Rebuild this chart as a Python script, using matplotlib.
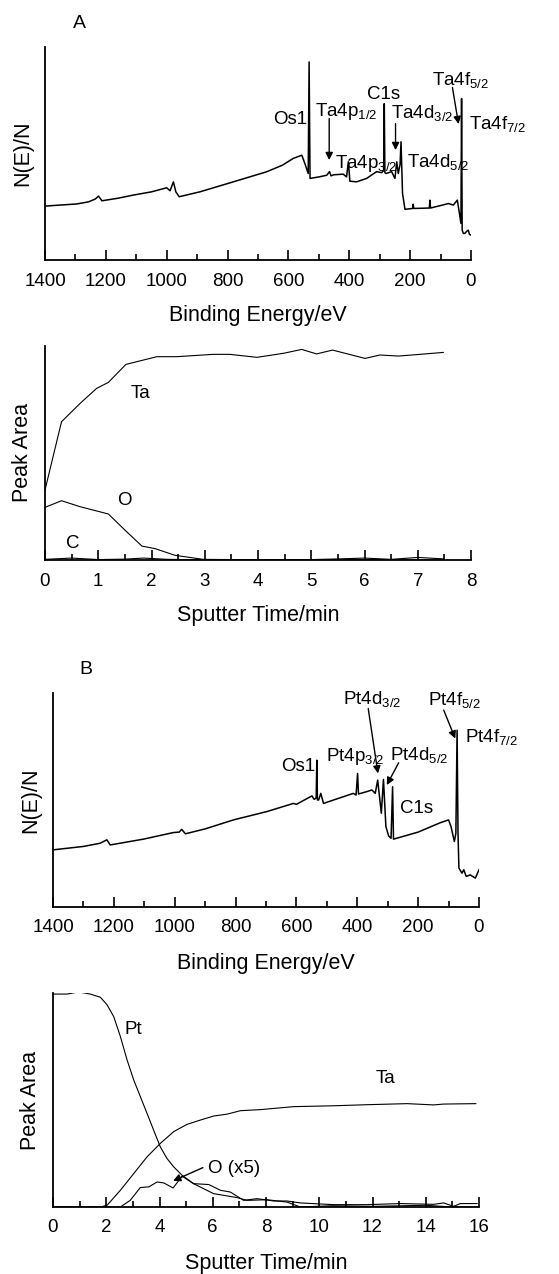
import matplotlib
matplotlib.use("Agg")
import matplotlib.pyplot as plt
from matplotlib.ticker import MultipleLocator

plt.rcParams["font.family"] = ["Liberation Sans", "DejaVu Sans"]
plt.rcParams["mathtext.fontset"] = "custom"
plt.rcParams["mathtext.rm"] = "Liberation Sans"
plt.rcParams["mathtext.it"] = "Liberation Sans"

# ---- panel A: survey spectrum (binding energy / eV, arb. intensity) ----
be_a = [1400, 1350, 1296, 1257, 1235, 1224, 1213, 1160, 1109, 1050, 1000, 989,
        978, 970, 959, 891, 781, 672, 620, 584, 556, 546, 535, 532, 529, 500,
        474, 465, 460, 452, 420, 409, 403, 398, 376, 343, 310, 294, 287, 285,
        283, 279, 261, 250, 244, 239, 233, 230, 225, 217, 192, 190, 188, 137,
        135, 133, 74, 58, 45, 38, 33, 31, 29, 25, 20, 14, 9, 5, 0]
nen_a = [25.3, 25.8, 26.3, 27.3, 28.6, 30.0, 27.8, 29.0, 30.5, 32.0, 33.9, 32.5,
         36.7, 32.0, 29.7, 32.0, 36.7, 41.4, 44.5, 47.7, 49.2, 45.3, 40.6, 93.0,
         38.3, 39.0, 39.8, 41.5, 39.5, 40.0, 40.3, 39.0, 46.1, 37.0, 36.7, 38.3,
         41.5, 41.0, 42.0, 73.4, 41.0, 40.6, 41.5, 38.3, 46.1, 40.6, 45.0, 55.5,
         31.2, 23.8, 24.2, 26.2, 24.2, 24.4, 28.1, 24.4, 26.5, 25.8, 28.1, 21.9,
         17.2, 75.8, 14.0, 12.5, 12.5, 13.5, 14.0, 12.0, 11.7]

# ---- panel A: depth profile ----
t_ta_a = [0, 0.31, 0.66, 0.97, 1.19, 1.52, 2.10, 2.47, 3.16, 3.47, 3.98, 4.48,
          4.82, 5.10, 5.40, 6.01, 6.29, 6.64, 7.04, 7.48]
ta_a = [32.7, 64.6, 73.2, 80.2, 83.0, 91.4, 95.0, 95.0, 96.1, 96.1, 94.7, 96.6,
        98.4, 96.3, 98.1, 94.2, 95.8, 95.3, 96.1, 97.0]
t_o_a = [0, 0.31, 0.66, 1.19, 1.50, 1.82, 2.07, 2.44, 2.97, 4.0, 5.0, 6.0, 7.5]
o_a = [24.6, 27.7, 24.9, 21.5, 14.0, 6.5, 5.3, 2.2, 0.3, 0.1, 0.0, 0.2, 0.0]
t_c_a = [0, 0.5, 1.0, 1.5, 1.85, 2.3, 3.0, 4.0, 5.0, 5.5, 6.0, 6.5, 7.0, 7.5]
c_a = [0.3, 0.9, 0.2, 0.4, 0.9, 0.3, 0.1, 0.1, 0.2, 0.5, 0.9, 0.3, 1.2, 0.5]

# ---- panel B: survey spectrum ----
be_b = [1400, 1300, 1245, 1223, 1212, 1103, 1004, 985, 977, 965, 900, 807, 697,
        610, 600, 549, 542, 535, 533, 531, 527, 520, 511, 478, 413, 404, 399,
        396, 369, 352, 341, 333, 321, 314, 306, 297, 289, 284, 281, 200, 127,
        100, 92, 81, 76, 72, 69, 66, 56, 50, 42, 29, 12, 0]
nen_b = [26.7, 28.3, 29.8, 31.4, 29.0, 31.7, 34.8, 35.0, 36.3, 34.2, 36.5, 40.7,
         44.6, 48.4, 48.0, 51.9, 50.3, 51.0, 68.6, 50.0, 50.0, 53.1, 48.4, 50.0,
         53.1, 52.3, 62.4, 52.8, 53.9, 54.7, 53.1, 59.3, 43.8, 59.6, 37.6, 33.2,
         32.1, 56.2, 31.7, 35.0, 39.4, 40.7, 37.6, 30.6, 34.5, 82.6, 34.5, 18.2,
         15.8, 17.4, 14.3, 15.0, 13.5, 17.4]

# ---- panel B: depth profile ----
t_pt = [0, 0.53, 0.96, 1.40, 1.78, 2.03, 2.28, 2.53, 2.78, 3.03, 3.28, 3.53,
        3.78, 4.03, 4.28, 4.53, 4.85, 5.28, 6.03, 6.91, 7.29, 8.04, 8.79, 9.29,
        10.5, 12.0, 14.0, 15.0, 16.0]
pt_b = [99.5, 99.5, 100.5, 99.5, 98.0, 94.5, 89.0, 79.7, 68.8, 59.4, 51.6, 43.8,
        35.9, 28.1, 22.7, 18.8, 14.8, 10.9, 6.25, 4.4, 3.1, 3.4, 2.3, 0.0,
        0.6, 0.3, 0.8, 0.0, 0.2]
t_ta = [0, 1.78, 2.03, 2.53, 3.03, 3.53, 4.03, 4.53, 5.03, 5.53, 6.03, 6.54,
        7.04, 7.79, 9.04, 10.54, 11.79, 13.30, 14.30, 14.67, 15.88]
ta_b = [0, 0, 0.8, 7.8, 15.6, 23.4, 29.7, 35.2, 38.6, 40.6, 42.5, 43.4,
        45.0, 45.5, 46.9, 47.3, 47.8, 48.3, 47.7, 48.1, 48.3]
t_o = [0, 2.53, 2.90, 3.28, 3.60, 3.91, 4.16, 4.51, 4.85, 5.28, 5.85, 6.29,
       6.66, 7.16, 7.66, 8.29, 8.79, 9.29, 10.54, 11.79, 13.05, 14.30, 14.67,
       15.05, 15.30, 15.93]
o_b = [0, 0, 3.1, 9.1, 9.4, 11.7, 11.25, 8.9, 14.4, 10.9, 10.5, 7.8,
       7.0, 3.1, 3.9, 2.8, 2.8, 1.9, 1.1, 1.1, 1.6, 1.25, 1.9, 0.3, 1.6, 1.6]

W, H = 559, 1274
fig = plt.figure(figsize=(W / 100, H / 100), dpi=100)


def make_axes(left, right, top, bottom):
    ax = fig.add_axes([left / W, 1 - bottom / H, (right - left) / W, (bottom - top) / H])
    for s in ("top", "right"):
        ax.spines[s].set_visible(False)
    for s in ("left", "bottom"):
        ax.spines[s].set_linewidth(1.3)
    ax.set_yticks([])
    ax.tick_params(axis="x", which="both", direction="in", width=1.2,
                   labelsize=13.5, pad=9)
    ax.tick_params(axis="x", which="major", length=7)
    ax.tick_params(axis="x", which="minor", length=4)
    ax.set_ylim(0, 100)
    h = bottom - top
    w = right - left
    ax.xaxis.label.set_va("center")
    ax.yaxis.label.set_va("center")
    ax.xaxis.set_label_coords(0.5, -56 / h)
    ax.yaxis.set_label_coords(-22 / w, 0.5)
    return ax


def arrow(ax, xy_from, xy_to):
    ax.annotate("", xy=xy_to, xytext=xy_from,
                arrowprops=dict(arrowstyle="-|>", color="black", lw=1.0,
                                mutation_scale=11, shrinkA=0, shrinkB=0))


lab = dict(fontsize=13.5, va="center", clip_on=False)
sub = lambda s, d: s + r"$_{\mathregular{" + d + "}}$"

# panel A spectrum
ax1 = make_axes(45, 471, 47, 260)
ax1.plot(be_a, nen_a, color="black", lw=1.1)
ax1.set_xlim(1400, 0)
ax1.xaxis.set_major_locator(MultipleLocator(200))
ax1.xaxis.set_minor_locator(MultipleLocator(100))
ax1.set_xlabel("Binding Energy/eV", fontsize=15.5)
ax1.set_ylabel("N(E)/N", fontsize=15.5)
fig.text(79 / W, 1 - 23 / H, "A", fontsize=14, ha="center", va="center")
ax1.text(537, 66, "Os1", ha="right", **lab)
ax1.text(512, 69.5, sub("Ta4p", "1/2"), ha="left", **lab)
arrow(ax1, (466, 66.4), (466, 46.9))
ax1.text(447, 45.3, sub("Ta4p", "3/2"), ha="left", **lab)
ax1.text(343, 77.7, "C1s", ha="left", **lab)
ax1.text(264, 68.8, sub("Ta4d", "3/2"), ha="left", **lab)
arrow(ax1, (248, 64), (248, 51.6))
ax1.text(209, 46, sub("Ta4d", "5/2"), ha="left", **lab)
ax1.text(127, 84.7, sub("Ta4f", "5/2"), ha="left", **lab)
arrow(ax1, (61, 81), (41, 63.8))
ax1.text(5.5, 63.8, sub("Ta4f", "7/2"), ha="left", **lab)

# panel A depth profile
ax2 = make_axes(45, 471, 346, 560)
ax2.plot(t_ta_a, ta_a, color="black", lw=0.8)
ax2.plot(t_o_a, o_a, color="black", lw=0.8)
ax2.plot(t_c_a, c_a, color="black", lw=0.8)
ax2.set_xlim(0, 8)
ax2.xaxis.set_major_locator(MultipleLocator(1))
ax2.xaxis.set_minor_locator(MultipleLocator(0.5))
ax2.set_xlabel("Sputter Time/min", fontsize=15.5)
ax2.set_ylabel("Peak Area", fontsize=15.5)
ax2.text(1.8, 77.9, "Ta", ha="center", **lab)
ax2.text(1.49, 27.6, "O", ha="center", **lab)
ax2.text(0.53, 7.8, "C", ha="center", **lab)

# panel B spectrum
ax3 = make_axes(53, 479, 693, 907)
ax3.plot(be_b, nen_b, color="black", lw=1.1)
ax3.set_xlim(1400, 0)
ax3.xaxis.set_major_locator(MultipleLocator(200))
ax3.xaxis.set_minor_locator(MultipleLocator(100))
ax3.set_xlabel("Binding Energy/eV", fontsize=15.5)
ax3.set_ylabel("N(E)/N", fontsize=15.5)
fig.text(86 / W, 1 - 669 / H, "B", fontsize=14, ha="center", va="center")
ax3.text(539, 65.5, "Os1", ha="right", **lab)
ax3.text(503, 70.2, sub("Pt4p", "3/2"), ha="left", **lab)
ax3.text(448, 97.4, sub("Pt4d", "3/2"), ha="left", **lab)
arrow(ax3, (364, 92.7), (332, 62.4))
ax3.text(292, 71, sub("Pt4d", "5/2"), ha="left", **lab)
arrow(ax3, (264, 67.4), (303, 57))
ax3.text(259, 46.1, "C1s", ha="left", **lab)
ax3.text(166, 96.6, sub("Pt4f", "5/2"), ha="left", **lab)
arrow(ax3, (116, 92), (78, 78.7))
ax3.text(45, 79.5, sub("Pt4f", "7/2"), ha="left", **lab)

# panel B depth profile
ax4 = make_axes(53, 479, 993, 1207)
ax4.plot(t_pt, pt_b, color="black", lw=0.8)
ax4.plot(t_ta, ta_b, color="black", lw=0.8)
ax4.plot(t_o, o_b, color="black", lw=0.8)
ax4.set_xlim(0, 16)
ax4.xaxis.set_major_locator(MultipleLocator(2))
ax4.xaxis.set_minor_locator(MultipleLocator(1))
ax4.set_xlabel("Sputter Time/min", fontsize=15.5)
ax4.set_ylabel("Peak Area", fontsize=15.5)
ax4.text(3.0, 83.1, "Pt", ha="center", **lab)
ax4.text(12.5, 60.2, "Ta", ha="center", **lab)
ax4.text(5.81, 18, "O (x5)", ha="left", **lab)
arrow(ax4, (5.63, 18.4), (4.51, 12.2))

fig.savefig("out.png", dpi=100)
